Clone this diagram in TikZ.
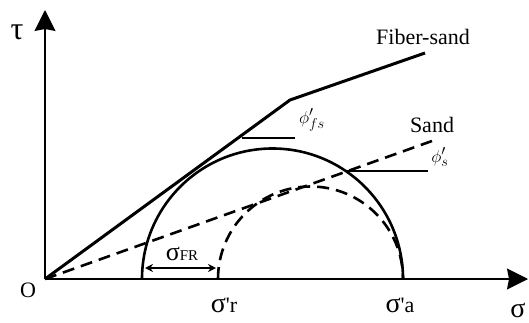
\documentclass[tikz,border=0pt]{standalone}
\usepackage{fontspec}
\setmainfont{Liberation Serif}
\usetikzlibrary{arrows.meta, positioning}

\begin{document}
\begin{tikzpicture}[
    x=1pt, y=1pt,
    axisArrow/.style={-{Stealth[length=21pt, width=21pt, inset=2pt]}, line width=1.6pt},
    envelope/.style={line width=3pt},
    circleSolid/.style={line width=2.6pt},
    circleDashed/.style={line width=2.6pt, dash pattern=on 12pt off 7pt},
    tickLine/.style={line width=1.6pt},
    lbl/.style={font=\fontsize{22}{22}\selectfont, inner sep=0pt},
    angLbl/.style={font=\fontsize{19}{19}\selectfont, inner sep=0pt}
]
    \useasboundingbox (0,0) rectangle (529,322);

    % Points
    \coordinate (O) at (45,43);
    \coordinate (tauEnd) at (45,312);
    \coordinate (sigEnd) at (528,43);
    \coordinate (kink) at (290,222);
    \coordinate (fsEnd) at (425,269);
    \coordinate (sandEnd) at (432,181);
    \coordinate (footFR) at (142,43);
    \coordinate (footR) at (218,43);

    % Axes
    \draw[axisArrow] (O) -- (tauEnd);
    \draw[axisArrow] (O) -- (sigEnd);

    % Failure envelopes
    \draw[envelope, line join=round] (O) -- (kink) -- (fsEnd);
    \draw[circleDashed] (O) -- (sandEnd);

    % Mohr circles
    \draw[circleSolid] (footFR) arc (180:0:130.5);
    \draw[circleDashed] (footR) arc (180:0:92.5);

    % Angle marks
    \coordinate (fsTickA) at (242,184);
    \coordinate (fsTickB) at (295,184);
    \coordinate (sTickA) at (345.5,151);
    \coordinate (sTickB) at (428,151);
    \draw[tickLine] (fsTickA) -- (fsTickB);
    \draw[tickLine] (sTickA) -- (sTickB);

    % Sigma FR
    \coordinate (frA) at (145,54);
    \coordinate (frB) at (216,54);
    \draw[{Stealth[length=8pt,width=8pt]}-{Stealth[length=8pt,width=8pt]}, line width=1.4pt] (frA) -- (frB);

    % Labels
    \node[lbl] (tau) at (17,290) {\fontsize{32}{32}\selectfont τ};
    \node[lbl] (origin) at (28,32) {O};
    \node[lbl] (sigma) at (518,12) {\fontsize{28}{28}\selectfont σ};
    \node[lbl] (sigR) at (224,17) {{\fontsize{28}{28}\selectfont σ}\textquotesingle r};
    \node[lbl] (sigA) at (400,17) {{\fontsize{28}{28}\selectfont σ}\textquotesingle a};
    \node[lbl] (sigFR) at (182,68) {{\fontsize{26}{26}\selectfont σ}{\fontsize{15}{15}\selectfont FR}};
    \node[lbl] (fiberSand) at (423,285) {Fiber-sand};
    \node[lbl] (sand) at (432,197) {Sand};
    \node[angLbl] (phiFS) at (312,202) {$\phi'_{fs}$};
    \node[angLbl] (phiS) at (440,165) {$\phi'_{s}$};
\end{tikzpicture}
\end{document}
